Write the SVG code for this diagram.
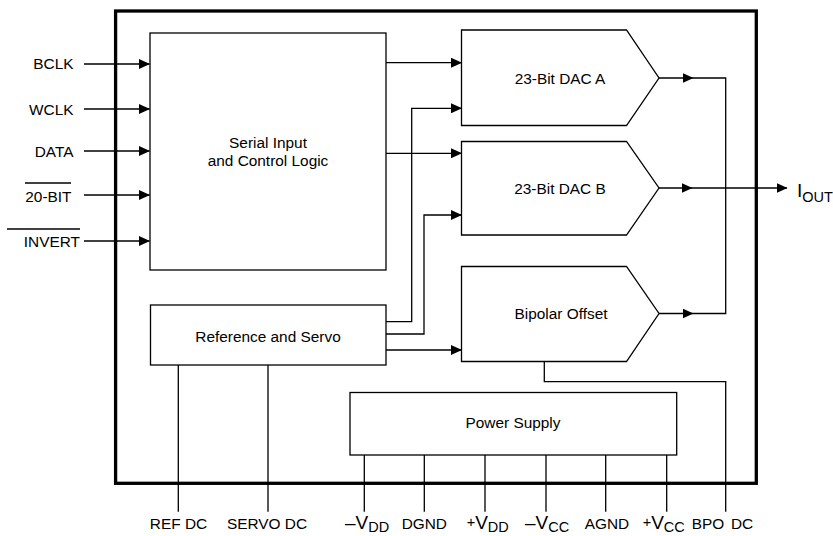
<svg xmlns="http://www.w3.org/2000/svg" width="833" height="536" viewBox="0 0 833 536">
<defs>
<marker id="ah" markerUnits="userSpaceOnUse" markerWidth="11" markerHeight="10" refX="10.5" refY="5" orient="auto">
<path d="M0,0 L11,5 L0,10 z" fill="#000"/>
</marker>
</defs>
<style>
text{font-family:"Liberation Sans",Arial,Helvetica,sans-serif;fill:#000}
.t{font-size:15.4px}
.c{text-anchor:middle}
.e{text-anchor:end}
.big{font-size:19px}
.sub{font-size:14.5px}
.box{fill:#fff;stroke:#000;stroke-width:1.3}
.w{fill:none;stroke:#000;stroke-width:1.3}
.a{fill:none;stroke:#000;stroke-width:1.3;marker-end:url(#ah)}
</style>
<rect width="833" height="536" fill="#fff"/>
<rect id="chip" x="115.6" y="11" width="640.7" height="472.3" fill="none" stroke="#000" stroke-width="3.3"/>

<g id="serial">
<rect class="box" x="150" y="33" width="236" height="237"/>
<text class="t c" x="268" y="148">Serial Input</text>
<text class="t c" x="268" y="166">and Control Logic</text>
</g>
<g id="dacA">
<path class="box" d="M461.5,30 H626.5 L659,78 L626.5,125.5 H461.5 Z"/>
<text class="t c" x="560" y="83.5">23-Bit DAC A</text>
</g>
<g id="dacB">
<path class="box" d="M461.5,141.5 H626.5 L659,188 L626.5,235 H461.5 Z"/>
<text class="t c" x="560" y="193.5">23-Bit DAC B</text>
</g>
<g id="bpo">
<path class="box" d="M461.5,266.5 H626.5 L659,313.5 L626.5,361.5 H461.5 Z"/>
<text class="t c" x="561" y="319">Bipolar Offset</text>
</g>
<g id="ref">
<rect class="box" x="150.5" y="305" width="235.5" height="60"/>
<text class="t c" x="268" y="342">Reference and Servo</text>
</g>
<g id="power">
<rect class="box" x="350" y="392.5" width="326.7" height="62.5"/>
<text class="t c" x="513" y="428">Power Supply</text>
</g>

<g id="connectors">
<path class="a" d="M84,64 H149.5"/>
<path class="a" d="M84,109 H149.5"/>
<path class="a" d="M84,151 H149.5"/>
<path class="a" d="M84,195 H149.5"/>
<path class="a" d="M84,241 H149.5"/>
<path class="a" d="M386,62.7 H461.5"/>
<path class="a" d="M386,153.3 H461.5"/>
<path class="a" d="M386,321.7 H411.7 V108.3 H461.5"/>
<path class="a" d="M386,334 H424 V215 H461.5"/>
<path class="a" d="M386,350 H461.5"/>
<path class="a" d="M659,78 H693"/>
<path class="w" d="M693,78 H725.7 V313.5 H693"/>
<path class="a" d="M659,313.5 H693"/>
<path class="a" d="M659,188 H692"/>
<path class="a" d="M692,188 H787"/>
<path class="w" d="M178.3,365 V511.7 M268,365 V511.7"/>
<path class="w" d="M364.3,455 V511.7 M424.3,455 V511.7 M485,455 V511.7 M546,455 V511.7 M605.7,455 V511.7 M666.7,455 V511.7"/>
<path class="w" d="M544.3,361.5 V381.7 H725.7 V511.7"/>
</g>

<g id="labels">
<text class="t e" x="73.5" y="69.3">BCLK</text>
<text class="t e" x="73.5" y="115">WCLK</text>
<text class="t e" x="73.5" y="157">DATA</text>
<text class="t e" x="71.5" y="202">20-BIT</text>
<line class="w" x1="25" y1="183" x2="71" y2="183"/>
<text class="t e" x="80" y="247">INVERT</text>
<line class="w" x1="7" y1="229" x2="80" y2="229"/>
<text class="big" x="797" y="197">I<tspan class="sub" dy="5">OUT</tspan></text>
<text class="t c" x="178.5" y="529">REF DC</text>
<text class="t c" x="267" y="529">SERVO DC</text>
<text class="big" x="345" y="528.5">–V<tspan class="sub" dy="3">DD</tspan></text>
<text class="t c" x="424.3" y="529">DGND</text>
<text class="big" x="466.7" y="528.5"><tspan class="sub" dy="-2">+</tspan><tspan dy="2">V</tspan><tspan class="sub" dy="3">DD</tspan></text>
<text class="big" x="525" y="528.5">–V<tspan class="sub" dy="3">CC</tspan></text>
<text class="t c" x="607" y="529">AGND</text>
<text class="big" x="642.7" y="528.5"><tspan class="sub" dy="-2">+</tspan><tspan dy="2">V</tspan><tspan class="sub" dy="3">CC</tspan></text>
<text class="t" x="691.7" y="529">BPO <tspan dx="2.5">DC</tspan></text>
</g>
</svg>
